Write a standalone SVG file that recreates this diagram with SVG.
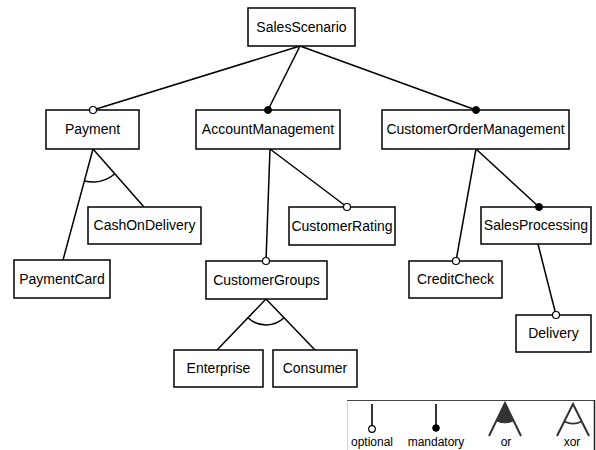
<svg xmlns="http://www.w3.org/2000/svg" width="596" height="450" viewBox="0 0 596 450">
<style>
.box{fill:#fff;stroke:#000;stroke-width:1.5}
.t{font-family:"Liberation Sans",Arial,sans-serif;font-size:14px;fill:#000;text-anchor:middle}
.lt{font-family:"Liberation Sans",Arial,sans-serif;font-size:12px;fill:#000;text-anchor:middle}
.e{stroke:#000;stroke-width:1.5;fill:none}
.opt{fill:#fff;stroke:#000;stroke-width:1.2}
.man{fill:#000;stroke:#000;stroke-width:1}
.lg{stroke:#333;stroke-width:2;fill:none}
</style>
<rect width="596" height="450" fill="#fff"/>
<g id="connectors">
<line class="e" x1="300" y1="46" x2="93" y2="110"/>
<line class="e" x1="300" y1="46" x2="268" y2="110"/>
<line class="e" x1="300" y1="46" x2="476" y2="110"/>
<line class="e" x1="93" y1="149" x2="63" y2="260"/>
<line class="e" x1="93" y1="149" x2="144" y2="207"/>
<path class="e" d="M84.6,180.9 A33,33 0 0 0 114.8,173.8"/>
<line class="e" x1="270" y1="149" x2="266" y2="261"/>
<line class="e" x1="270" y1="149" x2="347" y2="207"/>
<line class="e" x1="266" y1="299" x2="217" y2="350"/>
<line class="e" x1="266" y1="299" x2="315" y2="350"/>
<path class="e" d="M248,317.7 A26,26 0 0 0 284.5,317.3"/>
<line class="e" x1="476" y1="149" x2="456" y2="261"/>
<line class="e" x1="476" y1="149" x2="539" y2="207"/>
<line class="e" x1="538" y1="244" x2="556" y2="315"/>
</g>
<g id="SalesScenario"><rect class="box" x="248" y="8" width="107" height="38"/><text class="t" x="301.5" y="32">SalesScenario</text></g>
<g id="Payment"><rect class="box" x="46" y="110" width="93" height="39"/><text class="t" x="92.5" y="134">Payment</text></g>
<g id="AccountManagement"><rect class="box" x="196" y="110" width="144" height="39"/><text class="t" x="268" y="134">AccountManagement</text></g>
<g id="CustomerOrderManagement"><rect class="box" x="382" y="110" width="187" height="39"/><text class="t" x="475.5" y="134">CustomerOrderManagement</text></g>
<g id="CashOnDelivery"><rect class="box" x="88" y="207" width="113" height="37"/><text class="t" x="144.5" y="230">CashOnDelivery</text></g>
<g id="PaymentCard"><rect class="box" x="14" y="260" width="96" height="38"/><text class="t" x="62" y="284">PaymentCard</text></g>
<g id="CustomerRating"><rect class="box" x="289" y="207" width="106" height="38"/><text class="t" x="342" y="231">CustomerRating</text></g>
<g id="CustomerGroups"><rect class="box" x="206" y="261" width="121" height="38"/><text class="t" x="266.5" y="285">CustomerGroups</text></g>
<g id="Enterprise"><rect class="box" x="174" y="350" width="89" height="37"/><text class="t" x="218.5" y="373">Enterprise</text></g>
<g id="Consumer"><rect class="box" x="273" y="350" width="84" height="37"/><text class="t" x="315" y="373">Consumer</text></g>
<g id="SalesProcessing"><rect class="box" x="481" y="207" width="110" height="37"/><text class="t" x="536" y="230">SalesProcessing</text></g>
<g id="CreditCheck"><rect class="box" x="409" y="261" width="93" height="37"/><text class="t" x="455.5" y="284">CreditCheck</text></g>
<g id="Delivery"><rect class="box" x="516" y="315" width="75" height="37"/><text class="t" x="553.5" y="338">Delivery</text></g>
<g id="connector-ends">
<circle class="opt" cx="93" cy="110" r="3.5"/>
<circle class="man" cx="268" cy="110" r="3.5"/>
<circle class="man" cx="476" cy="110" r="3.5"/>
<circle class="opt" cx="347" cy="207" r="3.5"/>
<circle class="opt" cx="266" cy="261" r="3.5"/>
<circle class="opt" cx="456" cy="261" r="3.5"/>
<circle class="man" cx="539" cy="207" r="3.5"/>
<circle class="opt" cx="556" cy="315" r="3.5"/>
</g>
<g id="legend">
<line x1="347" y1="400.5" x2="595" y2="400.5" stroke="#444" stroke-width="1"/>
<line x1="347.5" y1="403" x2="347.5" y2="450" stroke="#ccc" stroke-width="1"/>
<line x1="594.5" y1="400" x2="594.5" y2="450" stroke="#222" stroke-width="1.5"/>
<line class="lg" x1="372" y1="404" x2="372" y2="426"/>
<circle class="opt" cx="372" cy="429" r="3.3"/>
<text class="lt" x="372" y="446">optional</text>
<line class="lg" x1="436" y1="404" x2="436" y2="425"/>
<circle class="man" cx="436" cy="428" r="3.3"/>
<text class="lt" x="436" y="446">mandatory</text>
<path d="M505,403 L497,421 A19,19 0 0 0 513,421 Z" fill="#333" stroke="#333" stroke-width="1"/>
<path class="lg" d="M489,436 L505,403 L521,436"/>
<text class="lt" x="506" y="446">or</text>
<path class="lg" d="M557,436 L573,404 L589,436"/>
<path d="M564.5,421.5 A19,19 0 0 0 581.5,421.5" fill="none" stroke="#333" stroke-width="1.5"/>
<text class="lt" x="572" y="446">xor</text>
</g>
</svg>
